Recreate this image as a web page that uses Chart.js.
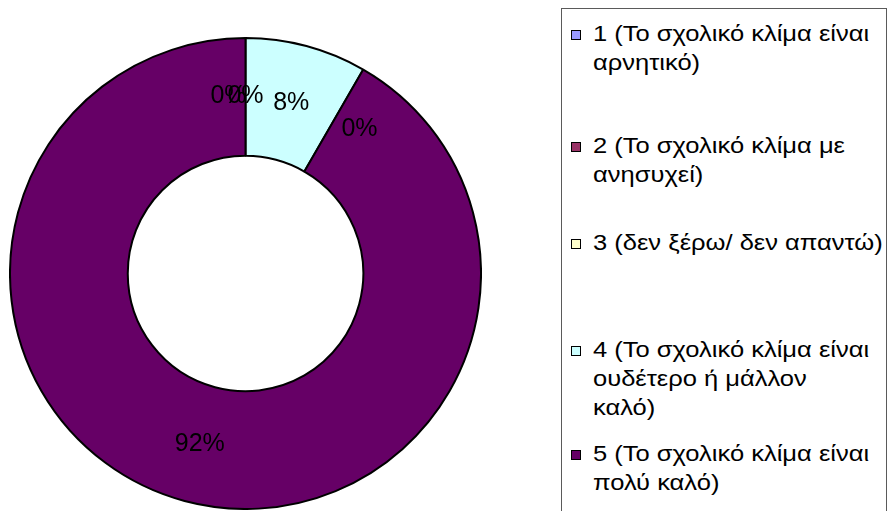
<!DOCTYPE html>
<html><head><meta charset="utf-8">
<script src="https://cdn.jsdelivr.net/npm/chart.js@4/dist/chart.umd.min.js"></script>
<style>
html,body{margin:0;padding:0;width:888px;height:511px;overflow:hidden;background:#fff;}
#chartBox{position:absolute;left:9px;top:36.5px;width:473px;height:473px;}
#legend{position:absolute;left:561px;top:8px;width:326px;height:530px;border:1px solid #5a5a5a;box-sizing:border-box;}
.marker{position:absolute;width:10px;height:10px;box-sizing:border-box;border:1px solid #000;}
.line{position:absolute;white-space:nowrap;font-family:"Liberation Sans",Arial,sans-serif;font-size:22px;line-height:29px;color:#000;transform:scaleX(1.16);transform-origin:0 0;}
</style>
</head><body>
<div id="chartBox"><canvas id="c"></canvas></div>
<div id="legend"></div>
<script>
// ---- data ----
const categories = [
  ['1 (Το σχολικό κλίμα είναι', 'αρνητικό)'],
  ['2 (Το σχολικό κλίμα με', 'ανησυχεί)'],
  ['3 (δεν ξέρω/ δεν απαντώ)'],
  ['4 (Το σχολικό κλίμα είναι', 'ουδέτερο ή μάλλον', 'καλό)'],
  ['5 (Το σχολικό κλίμα είναι', 'πολύ καλό)']
];
const values = [0, 0, 0, 1, 11];
const sliceColors = ['#9999FF', '#993366', '#FFFFCC', '#CCFFFF', '#660066'];

// ---- layout (not data) ----
const labelNudges = [[-17, -1], [0, -1], [114, 32], [0, 0], [0, 0]];
const legendBaselines = [41, 153, 250, 357, 461];
const legendLineHeight = 29;
const legendOrigin = [562, 9];

const total = values.reduce((a, b) => a + b, 0);

const pctLabels = {
  id: 'pctLabels',
  afterDatasetsDraw(chart) {
    const ctx = chart.ctx;
    const meta = chart.getDatasetMeta(0);
    ctx.save();
    ctx.font = '25px "Liberation Sans", Arial, sans-serif';
    ctx.fillStyle = '#000';
    ctx.textAlign = 'center';
    ctx.textBaseline = 'middle';
    meta.data.forEach((el, i) => {
      const p = el.tooltipPosition();
      const pct = Math.round(values[i] / total * 100) + '%';
      ctx.fillText(pct, p.x + labelNudges[i][0], p.y + labelNudges[i][1]);
    });
    ctx.restore();
  }
};

new Chart(document.getElementById('c'), {
  type: 'doughnut',
  data: {
    labels: categories,
    datasets: [{
      data: values,
      backgroundColor: sliceColors,
      borderColor: '#000',
      borderWidth: 2,
      hoverOffset: 0,
      offset: 0
    }]
  },
  options: {
    responsive: true,
    maintainAspectRatio: false,
    animation: false,
    events: [],
    cutout: '50%',
    rotation: 0,
    layout: { padding: 0 },
    plugins: { legend: { display: false }, tooltip: { enabled: false } }
  },
  plugins: [pctLabels]
});

// HTML legend built from the same arrays
const legend = document.getElementById('legend');
categories.forEach((lines, i) => {
  const base = legendBaselines[i];
  const m = document.createElement('div');
  m.className = 'marker';
  m.style.left = (571 - legendOrigin[0]) + 'px';
  m.style.top = (base - 11 - legendOrigin[1]) + 'px';
  m.style.background = sliceColors[i];
  legend.appendChild(m);
  lines.forEach((t, j) => {
    const d = document.createElement('div');
    d.className = 'line';
    d.textContent = t;
    d.style.left = (593 - legendOrigin[0]) + 'px';
    d.style.top = (base - 22 - legendOrigin[1] + j * legendLineHeight) + 'px';
    legend.appendChild(d);
  });
});
</script>
</body></html>
